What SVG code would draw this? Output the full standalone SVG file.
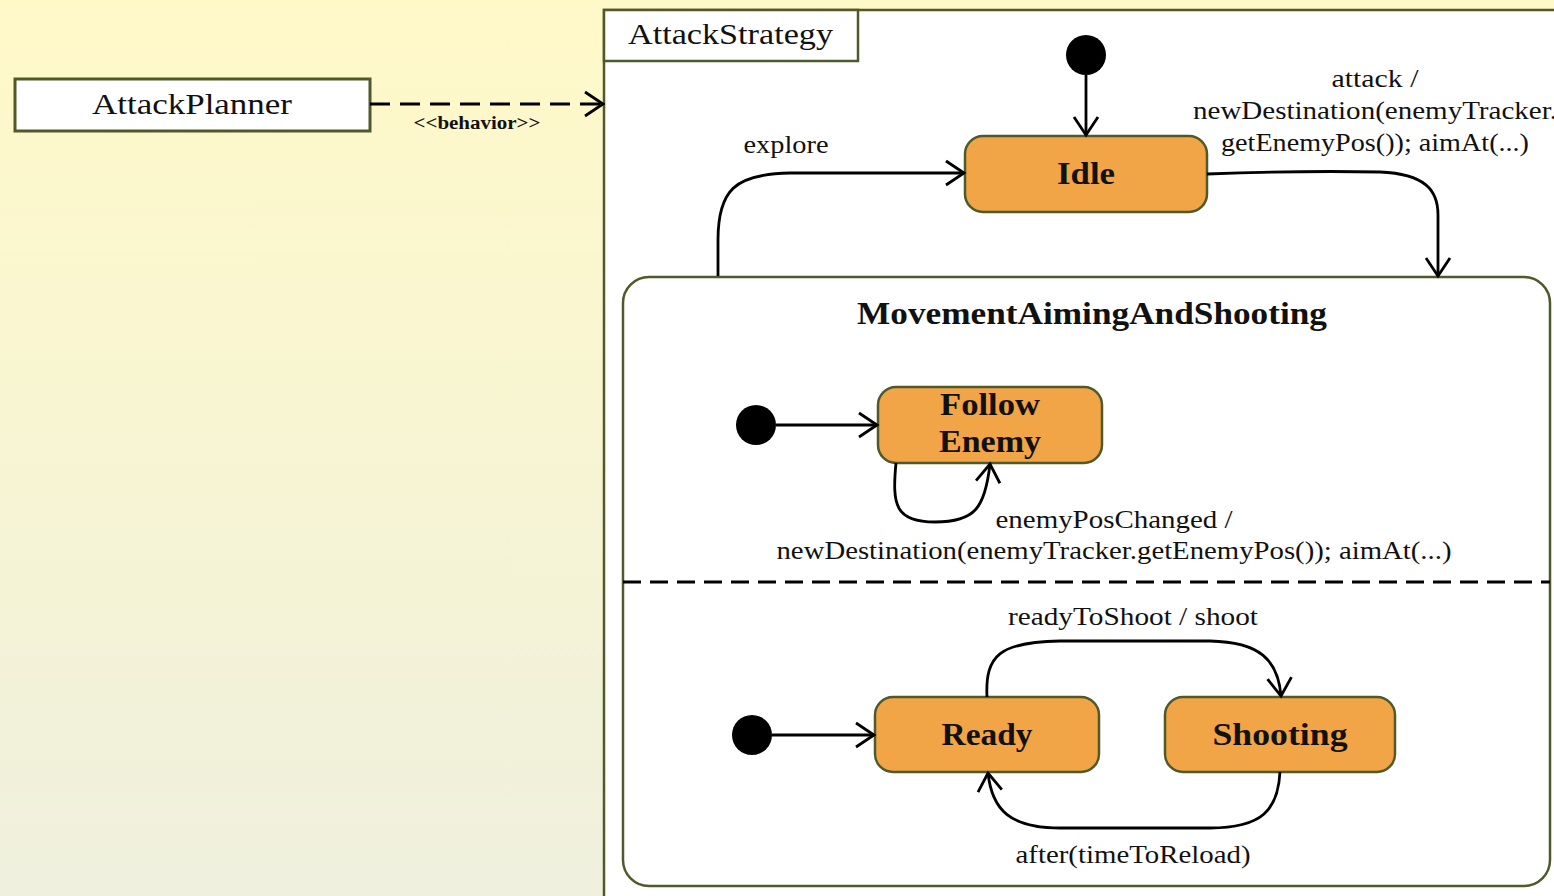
<svg xmlns="http://www.w3.org/2000/svg" width="1554" height="896" viewBox="0 0 1554 896">
  <defs>
    <linearGradient id="bg" x1="0" y1="0" x2="0" y2="1">
      <stop offset="0" stop-color="#FFF9C8"/>
      <stop offset="1" stop-color="#EFF0DE"/>
    </linearGradient>
    <marker id="open" viewBox="0 0 22 28" refX="20" refY="14" markerWidth="22" markerHeight="28" markerUnits="userSpaceOnUse" orient="auto" overflow="visible">
      <path d="M2,2 L20,14 L2,26" fill="none" stroke="#000" stroke-width="2.8" stroke-linejoin="miter"/>
    </marker>
  </defs>
  <style>
    .txt { font-family: "Liberation Serif", "DejaVu Serif", serif; fill: #111; }
    .lbl { font-size: 25px; }
    .ttl { font-size: 31px; font-weight: bold; }
    .state { fill: #F2A546; stroke: #4E5A2A; stroke-width: 2.5; }
    .frame { fill: #fff; stroke: #4E5A2A; stroke-width: 2.5; }
    .edge { fill: none; stroke: #000; stroke-width: 2.8; marker-end: url(#open); }
    .init { fill: #000; }
  </style>

  <!-- background -->
  <rect x="0" y="0" width="1554" height="896" fill="url(#bg)"/>

  <!-- behavior frame -->
  <g id="AttackStrategy">
    <rect class="frame" x="604" y="10" width="960" height="900"/>
    <rect class="frame" x="604" y="10" width="254" height="51"/>
    <text class="txt" x="628" y="44" font-size="30" textLength="205" lengthAdjust="spacingAndGlyphs">AttackStrategy</text>
  </g>

  <g id="AttackPlanner">
    <rect x="15" y="79" width="355" height="52" fill="#fff" stroke="#4E5A2A" stroke-width="3"/>
    <text class="txt" x="192" y="114" font-size="30" text-anchor="middle" textLength="200" lengthAdjust="spacingAndGlyphs">AttackPlanner</text>
  </g>

  <g id="MovementAimingAndShooting">
    <rect class="frame" x="623" y="277" width="927" height="609" rx="26"/>
    <text class="txt ttl" x="1092" y="324" text-anchor="middle" textLength="470" lengthAdjust="spacingAndGlyphs">MovementAimingAndShooting</text>
    <line x1="623" y1="582" x2="1550" y2="582" stroke="#000" stroke-width="2.8" stroke-dasharray="18,9"/>
  </g>

  <g id="init-top"><circle class="init" cx="1086" cy="55" r="20"/></g>
  <g id="init-follow"><circle class="init" cx="756" cy="425" r="20"/></g>
  <g id="init-ready"><circle class="init" cx="752" cy="735" r="20"/></g>

  <g id="Idle">
    <rect class="state" x="965" y="136" width="242" height="76" rx="18"/>
    <text class="txt ttl" x="1086" y="184" text-anchor="middle" textLength="58" lengthAdjust="spacingAndGlyphs">Idle</text>
  </g>

  <g id="FollowEnemy">
    <rect class="state" x="878" y="387" width="224" height="76" rx="18"/>
    <text class="txt ttl" x="990" y="415" text-anchor="middle" textLength="100" lengthAdjust="spacingAndGlyphs">Follow</text>
    <text class="txt ttl" x="990" y="452" text-anchor="middle" textLength="102" lengthAdjust="spacingAndGlyphs">Enemy</text>
  </g>

  <g id="Ready">
    <rect class="state" x="875" y="697" width="224" height="75" rx="18"/>
    <text class="txt ttl" x="987" y="745" text-anchor="middle" textLength="91" lengthAdjust="spacingAndGlyphs">Ready</text>
  </g>

  <g id="Shooting">
    <rect class="state" x="1165" y="697" width="230" height="75" rx="18"/>
    <text class="txt ttl" x="1280" y="745" text-anchor="middle" textLength="135" lengthAdjust="spacingAndGlyphs">Shooting</text>
  </g>

  <!-- transitions -->
  <g id="connectors">
    <path d="M370,104 L603,104" fill="none" stroke="#000" stroke-width="3" stroke-dasharray="20,10" marker-end="url(#open)"/>
    <path class="edge" d="M1086,75 L1086,135"/>
    <path class="edge" d="M718,276 L718,240 C718,190 735,174 790,173 L964,173"/>
    <path class="edge" d="M1207,174 C1260,172 1330,171 1380,172 C1425,174 1438,190 1438,215 L1438,276"/>
    <path class="edge" d="M776,425 L877,425"/>
    <path class="edge" d="M896,463 C892,505 895,522 935,522 C975,522 985,508 990,464"/>
    <path class="edge" d="M772,735 L874,735"/>
    <path class="edge" d="M987,697 C985,655 1000,642 1060,641 L1210,641 C1260,642 1278,660 1281,696"/>
    <path class="edge" d="M1280,772 C1278,810 1262,828 1210,828 L1060,828 C1010,828 992,810 988,773"/>
  </g>

  <!-- transition labels -->
  <g id="labels">
    <text class="txt" x="477" y="129" font-size="18" font-weight="bold" text-anchor="middle" textLength="127" lengthAdjust="spacingAndGlyphs">&lt;&lt;behavior&gt;&gt;</text>
    <text class="txt lbl" x="786" y="153" text-anchor="middle" textLength="85" lengthAdjust="spacingAndGlyphs">explore</text>
    <text class="txt lbl" x="1375" y="87" text-anchor="middle" textLength="87" lengthAdjust="spacingAndGlyphs">attack /</text>
    <text class="txt lbl" x="1193" y="119" textLength="364" lengthAdjust="spacingAndGlyphs">newDestination(enemyTracker.</text>
    <text class="txt lbl" x="1375" y="151" text-anchor="middle" textLength="308" lengthAdjust="spacingAndGlyphs">getEnemyPos()); aimAt(...)</text>
    <text class="txt lbl" x="1114" y="528" text-anchor="middle" textLength="237" lengthAdjust="spacingAndGlyphs">enemyPosChanged /</text>
    <text class="txt lbl" x="1114" y="559" text-anchor="middle" textLength="675" lengthAdjust="spacingAndGlyphs">newDestination(enemyTracker.getEnemyPos()); aimAt(...)</text>
    <text class="txt lbl" x="1133" y="625" text-anchor="middle" textLength="250" lengthAdjust="spacingAndGlyphs">readyToShoot / shoot</text>
    <text class="txt lbl" x="1133" y="863" text-anchor="middle" textLength="235" lengthAdjust="spacingAndGlyphs">after(timeToReload)</text>
  </g>
</svg>
